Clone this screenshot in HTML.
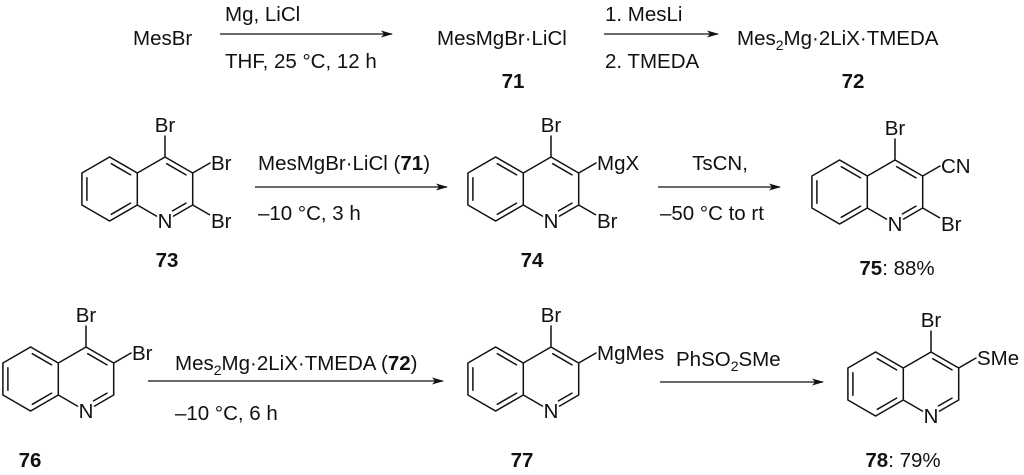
<!DOCTYPE html>
<html><head><meta charset="utf-8"><style>
html,body{margin:0;padding:0;background:#fff}
svg{display:block}
text{font-family:"Liberation Sans",Arial,sans-serif;font-size:20.5px;fill:#111}
.b{font-weight:bold}
</style></head><body>
<svg width="1024" height="475" viewBox="0 0 1024 475" xmlns="http://www.w3.org/2000/svg">
<defs>
<g id="q" stroke="#111" stroke-width="1.5" fill="none" stroke-linecap="round">
<path d="M0,0 L27.7,16 L27.7,48 L8.5,59.1 M-8.5,59.1 L-27.7,48 L-27.7,16 L0,0 M-27.7,16 L-55.4,0 L-83.1,16 L-83.1,48 L-55.4,64 L-27.7,48"/>
<path d="M1.7,6.7 L21,17.9 M21,46.1 L7.5,53.9 M-34.4,17.9 L-53.7,6.7 M-78.1,20.8 L-78.1,43.2 M-53.7,57.3 L-34.4,46.1"/>
<path d="M0,0 L0,-21 M27.7,16 L45,6"/>
</g>
<g id="c2" stroke="#111" stroke-width="1.5" fill="none"><path d="M27.7,48 L45,58"/></g>
<marker id="ah" markerWidth="12" markerHeight="8" refX="11" refY="4" orient="auto" markerUnits="userSpaceOnUse"><path d="M0,0.5 L12,4 L0,7.5 L3,4 Z" fill="#111"/></marker>
</defs>
<g stroke="#111" stroke-width="1.3" marker-end="url(#ah)">
<line x1="220" y1="34" x2="392" y2="34"/>
<line x1="604" y1="34" x2="718" y2="34"/>
<line x1="255" y1="187" x2="447" y2="187"/>
<line x1="658" y1="187" x2="780" y2="187"/>
<line x1="148" y1="381" x2="443" y2="381"/>
<line x1="660" y1="382" x2="823" y2="382"/>
</g>
<!-- top row -->
<text x="133" y="45">MesBr</text>
<text x="225" y="21">Mg, LiCl</text>
<text x="225" y="68">THF, 25 °C, 12 h</text>
<text x="437" y="45">MesMgBr·LiCl</text>
<text x="513" y="88" class="b" text-anchor="middle">71</text>
<text x="605" y="21">1. MesLi</text>
<text x="605" y="68">2. TMEDA</text>
<text x="737" y="45">Mes<tspan font-size="14" dy="5">2</tspan><tspan dy="-5">Mg·2LiX·TMEDA</tspan></text>
<text x="853" y="88" class="b" text-anchor="middle">72</text>
<!-- row 2 -->
<g transform="translate(165,157)"><use href="#q"/><use href="#c2"/>
<text x="0" y="-25" text-anchor="middle">Br</text><text x="46" y="13">Br</text><text x="46" y="71">Br</text><text x="0" y="71" text-anchor="middle">N</text></g>
<text x="167" y="267" class="b" text-anchor="middle">73</text>
<text x="258" y="170">MesMgBr·LiCl (<tspan class="b">71</tspan>)</text>
<text x="258" y="220">–10 °C, 3 h</text>
<g transform="translate(551,157)"><use href="#q"/><use href="#c2"/>
<text x="0" y="-25" text-anchor="middle">Br</text><text x="46" y="13">MgX</text><text x="46" y="71">Br</text><text x="0" y="71" text-anchor="middle">N</text></g>
<text x="532" y="267" class="b" text-anchor="middle">74</text>
<text x="720" y="170" text-anchor="middle">TsCN,</text>
<text x="660" y="220">–50 °C to rt</text>
<g transform="translate(895,160)"><use href="#q"/><use href="#c2"/>
<text x="0" y="-25" text-anchor="middle">Br</text><text x="46" y="13">CN</text><text x="46" y="71">Br</text><text x="0" y="71" text-anchor="middle">N</text></g>
<text x="897" y="275" text-anchor="middle"><tspan class="b">75</tspan>: 88%</text>
<!-- row 3 -->
<g transform="translate(86,347)"><use href="#q"/>
<text x="0" y="-25" text-anchor="middle">Br</text><text x="46" y="13">Br</text><text x="0" y="71" text-anchor="middle">N</text></g>
<text x="30" y="467" class="b" text-anchor="middle">76</text>
<text x="175" y="370">Mes<tspan font-size="14" dy="5">2</tspan><tspan dy="-5">Mg·2LiX·TMEDA (</tspan><tspan class="b">72</tspan>)</text>
<text x="175" y="420">–10 °C, 6 h</text>
<g transform="translate(551,347)"><use href="#q"/>
<text x="0" y="-25" text-anchor="middle">Br</text><text x="46" y="13">MgMes</text><text x="0" y="71" text-anchor="middle">N</text></g>
<text x="522" y="467" class="b" text-anchor="middle">77</text>
<text x="676" y="366">PhSO<tspan font-size="14" dy="5">2</tspan><tspan dy="-5">SMe</tspan></text>
<g transform="translate(931,352)"><use href="#q"/>
<text x="0" y="-25" text-anchor="middle">Br</text><text x="46" y="13">SMe</text><text x="0" y="71" text-anchor="middle">N</text></g>
<text x="903" y="467" text-anchor="middle"><tspan class="b">78</tspan>: 79%</text>
</svg>
</body></html>
